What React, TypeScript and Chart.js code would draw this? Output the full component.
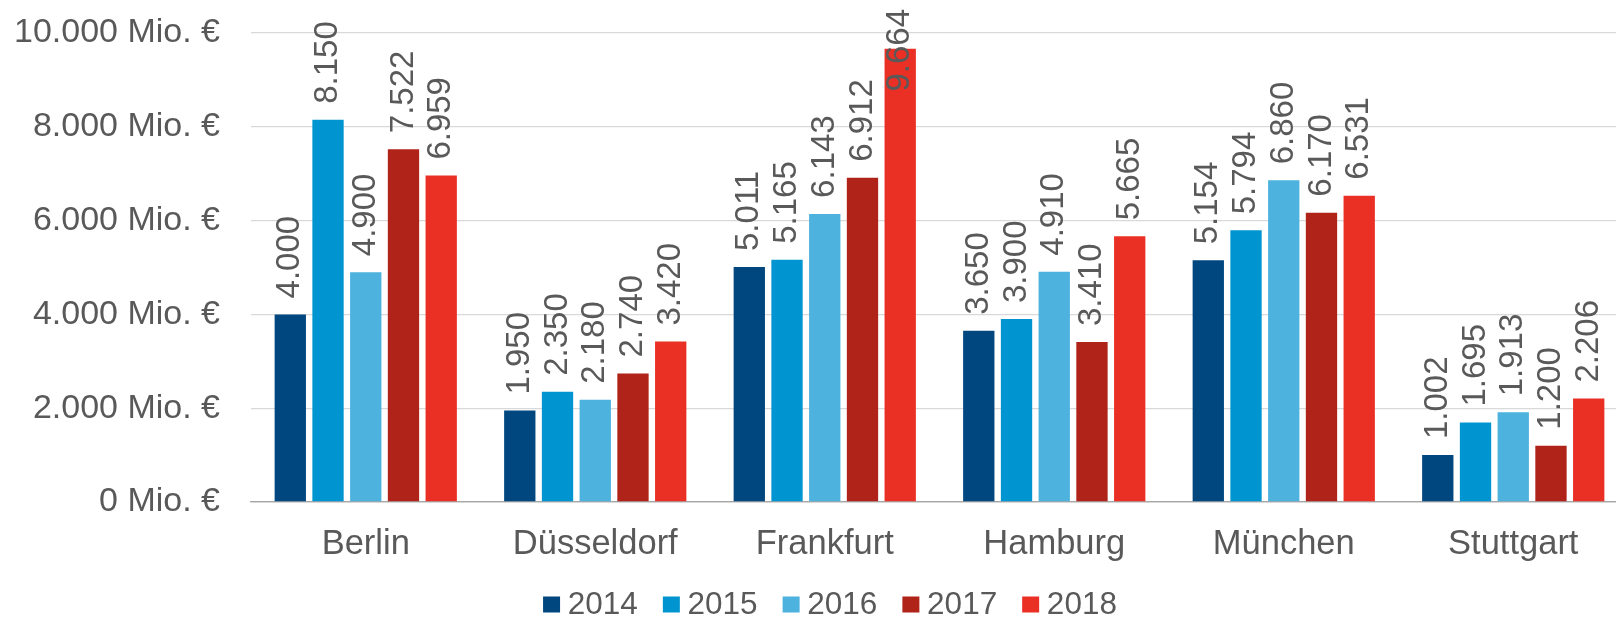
import React, { useEffect, useRef } from "react";
import { Chart, registerables } from "chart.js";

Chart.register(...registerables);

const categories = ["Berlin", "Düsseldorf", "Frankfurt", "Hamburg", "München", "Stuttgart"];
const years = ["2014", "2015", "2016", "2017", "2018"];
const values2014 = [4000, 1950, 5011, 3650, 5154, 1002];
const values2015 = [8150, 2350, 5165, 3900, 5794, 1695];
const values2016 = [4900, 2180, 6143, 4910, 6860, 1913];
const values2017 = [7522, 2740, 6912, 3410, 6170, 1200];
const values2018 = [6959, 3420, 9664, 5665, 6531, 2206];
const seriesValues = [values2014, values2015, values2016, values2017, values2018];
const colors = ["#00477f", "#0095d0", "#4db2de", "#b02318", "#ea3024"];
const yMin = 0;
const yMax = 10000;
const yStep = 2000;
const unitSuffix = " Mio. €";

const FONT = "'Liberation Sans', Arial, sans-serif";
const TEXT_COLOR = "#595959";

const CANVAS_W = 1628;
const CANVAS_H = 617;
const PAD_TOP = 33;
const PAD_BOTTOM = 55;
const X_AXIS_H = 60;
const Y_AXIS_W = 251;

function fmt(n: number): string {
  return String(Math.round(n)).replace(/\B(?=(\d{3})+(?!\d))/g, ".");
}

const valueLabelPlugin = {
  id: "valueLabels",
  afterDatasetsDraw(chart: any) {
    const ctx = chart.ctx;
    ctx.save();
    ctx.font = `33px ${FONT}`;
    ctx.fillStyle = TEXT_COLOR;
    ctx.textAlign = "left";
    ctx.textBaseline = "middle";
    chart.data.datasets.forEach((ds: any, di: number) => {
      const meta = chart.getDatasetMeta(di);
      meta.data.forEach((bar: any, i: number) => {
        const text = fmt(ds.data[i]);
        const w = ctx.measureText(text).width;
        let start = bar.y - 16;
        if (start - w < 9) start = 9 + w;
        ctx.save();
        ctx.translate(bar.x, start);
        ctx.rotate(-Math.PI / 2);
        ctx.fillText(text, 0, 0);
        ctx.restore();
      });
    });
    ctx.restore();
  },
};

const legendPlugin = {
  id: "customLegend",
  afterDraw(chart: any) {
    const ctx = chart.ctx;
    ctx.save();
    ctx.font = `31.5px ${FONT}`;
    ctx.textBaseline = "middle";
    ctx.textAlign = "left";
    const boxW = 17;
    const boxH = 16;
    const textGap = 7.7;
    const itemGap = 25;
    const items = chart.data.datasets.map((ds: any) => ({
      label: ds.label,
      color: ds.backgroundColor,
      w: ctx.measureText(ds.label).width,
    }));
    const total =
      items.reduce((s: number, it: any) => s + boxW + textGap + it.w, 0) + itemGap * (items.length - 1);
    const centerX = 830;
    const cy = 604.5;
    let x = centerX - total / 2;
    items.forEach((it: any) => {
      ctx.fillStyle = it.color;
      ctx.fillRect(x, cy - boxH / 2, boxW, boxH);
      ctx.fillStyle = TEXT_COLOR;
      ctx.fillText(it.label, x + boxW + textGap, cy + 1);
      x += boxW + textGap + it.w + itemGap;
    });
    ctx.restore();
  },
};

export default function App() {
  const ref = useRef<HTMLCanvasElement | null>(null);

  useEffect(() => {
    document.body.style.margin = "0";
    document.body.style.overflow = "hidden";
    document.documentElement.style.overflow = "hidden";
    if (!ref.current) return;
    const chart = new Chart(ref.current, {
      type: "bar",
      data: {
        labels: categories,
        datasets: years.map((y, i) => ({
          label: y,
          data: seriesValues[i],
          backgroundColor: colors[i],
          borderWidth: 0,
          categoryPercentage: 0.822,
          barPercentage: 0.83,
        })),
      },
      options: {
        responsive: false,
        animation: false,
        events: [],
        layout: { padding: { top: PAD_TOP, left: 0, right: 0, bottom: PAD_BOTTOM } },
        plugins: {
          legend: { display: false },
          tooltip: { enabled: false },
          title: { display: false },
        },
        scales: {
          x: {
            afterFit(scale: any) {
              scale.height = X_AXIS_H;
              scale.paddingLeft = 0;
              scale.paddingRight = 0;
              scale.paddingTop = 0;
              scale.paddingBottom = 0;
            },
            grid: { display: false, drawTicks: false },
            border: { display: true, color: "#a6a6a6", width: 1.3 },
            ticks: {
              color: TEXT_COLOR,
              font: { family: FONT, size: 34.5 },
              padding: 22,
              maxRotation: 0,
              autoSkip: false,
            },
          },
          y: {
            min: yMin,
            max: yMax,
            afterFit(scale: any) {
              scale.width = Y_AXIS_W;
              scale.paddingTop = 0;
              scale.paddingBottom = 0;
              scale.paddingLeft = 0;
              scale.paddingRight = 0;
            },
            grid: {
              color: (c: any) => (c.tick && c.tick.value === 0 ? "#a6a6a6" : "#d9d9d9"),
              lineWidth: 1.3,
              drawTicks: false,
            },
            border: { display: false },
            ticks: {
              stepSize: yStep,
              color: TEXT_COLOR,
              font: { family: FONT, size: 34 },
              padding: 31,
              callback: (v: any) => fmt(Number(v)) + unitSuffix,
            },
          },
        },
      },
      plugins: [valueLabelPlugin, legendPlugin],
    });
    return () => chart.destroy();
  }, []);

  return (
    <div style={{ width: CANVAS_W, height: CANVAS_H }}>
      <canvas ref={ref} width={CANVAS_W} height={CANVAS_H} style={{ display: "block" }} />
    </div>
  );
}
